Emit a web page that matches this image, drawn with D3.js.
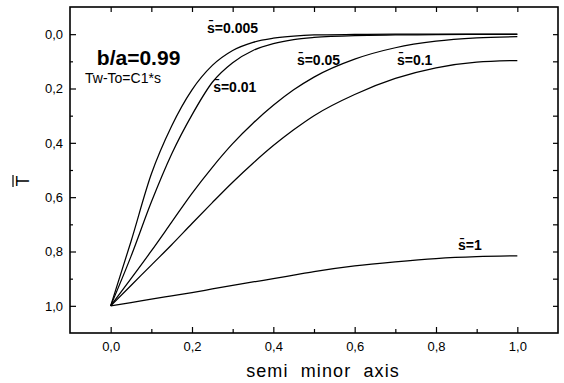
<!DOCTYPE html>
<html>
<head>
<meta charset="utf-8">
<script src="https://cdn.jsdelivr.net/npm/d3@7"></script>
<style>
  html, body { margin: 0; padding: 0; background: #fff; }
  svg { display: block; font-family: "Liberation Sans", Arial, sans-serif; }
</style>
</head>
<body>
<svg id="chart" width="564" height="383"></svg>
<script>
// Position along the semi minor axis
const xs = [0, 0.05, 0.1, 0.15, 0.2, 0.25, 0.3, 0.35, 0.4, 0.45, 0.5, 0.6, 0.7, 0.8, 0.9, 1.0];

// Dimensionless temperature for each s value
const t_s0005 = [1.0, 0.763, 0.515, 0.338, 0.205, 0.115, 0.06, 0.03, 0.015, 0.007, 0.003, 0.001, 0, 0, 0, 0];
const t_s001  = [1.0, 0.818, 0.618, 0.441, 0.297, 0.177, 0.105, 0.06, 0.035, 0.02, 0.012, 0.005, 0.003, 0.002, 0.001, 0.001];
const t_s005  = [1.0, 0.9, 0.798, 0.692, 0.586, 0.49, 0.403, 0.328, 0.262, 0.205, 0.158, 0.092, 0.05, 0.026, 0.014, 0.009];
const t_s01   = [1.0, 0.925, 0.85, 0.775, 0.697, 0.62, 0.545, 0.475, 0.41, 0.352, 0.3, 0.222, 0.163, 0.124, 0.103, 0.097];
const t_s1    = [1.0, 0.988, 0.975, 0.963, 0.951, 0.938, 0.925, 0.912, 0.9, 0.887, 0.874, 0.853, 0.838, 0.826, 0.819, 0.816];

const seriesNames = ["0.005", "0.01", "0.05", "0.1", "1"];
const seriesValues = [t_s0005, t_s001, t_s005, t_s01, t_s1];

// Curve label anchors (data coordinates)
const labelX = [0.237, 0.252, 0.458, 0.704, 0.854];
const labelY = [-0.004, 0.213, 0.113, 0.113, 0.795];

// Axis ticks
const xMajor = [0, 0.2, 0.4, 0.6, 0.8, 1.0];
const xMinor = [0.1, 0.3, 0.5, 0.7, 0.9];
const yMajor = [0, 0.2, 0.4, 0.6, 0.8, 1.0];
const yMinor = [0.1, 0.3, 0.5, 0.7, 0.9];

const svg = d3.select("#chart");
const mLeft = 70, mRight = 558, mTop = 7, mBottom = 333;

const x = d3.scaleLinear().domain([-0.1, 1.1]).range([mLeft, mRight]);
const y = d3.scaleLinear().domain([-0.1, 1.1]).range([mTop, mBottom]);

const fmt = v => d3.format(".1f")(v).replace(".", ",");

function styleAxis(g) {
  g.select(".domain").remove();
  g.selectAll(".tick line").attr("stroke", "#000").attr("stroke-width", 1.2);
  g.selectAll(".tick text").attr("fill", "#000").style("font-size", "13px")
    .style("font-family", "'Liberation Sans', Arial, sans-serif");
}

// Bottom axis: labelled majors + minors (inward)
svg.append("g").attr("transform", `translate(0,${mBottom})`)
  .call(d3.axisBottom(x).tickValues(xMajor).tickSizeInner(-6).tickSizeOuter(0).tickPadding(9).tickFormat(fmt))
  .call(styleAxis);
svg.append("g").attr("transform", `translate(0,${mBottom})`)
  .call(d3.axisBottom(x).tickValues(xMinor).tickSizeInner(-4).tickSizeOuter(0).tickFormat(""))
  .call(styleAxis);
// Top axis
svg.append("g").attr("transform", `translate(0,${mTop})`)
  .call(d3.axisTop(x).tickValues(xMajor.concat(xMinor)).tickSizeInner(-5).tickSizeOuter(0).tickFormat(""))
  .call(styleAxis);
// Left axis
svg.append("g").attr("transform", `translate(${mLeft},0)`)
  .call(d3.axisLeft(y).tickValues(yMajor).tickSizeInner(-6).tickSizeOuter(0).tickPadding(7).tickFormat(fmt))
  .call(styleAxis);
svg.append("g").attr("transform", `translate(${mLeft},0)`)
  .call(d3.axisLeft(y).tickValues(yMinor).tickSizeInner(-3).tickSizeOuter(0).tickFormat(""))
  .call(styleAxis);
// Right axis
svg.append("g").attr("transform", `translate(${mRight},0)`)
  .call(d3.axisRight(y).tickValues(yMajor.concat(yMinor)).tickSizeInner(-5).tickSizeOuter(0).tickFormat(""))
  .call(styleAxis);

// Frame
svg.append("rect")
  .attr("x", mLeft).attr("y", mTop)
  .attr("width", mRight - mLeft).attr("height", mBottom - mTop)
  .attr("fill", "none").attr("stroke", "#000").attr("stroke-width", 1.6);

// Curves
const line = d3.line()
  .x((d, i) => x(xs[i]))
  .y(d => y(d))
  .curve(d3.curveMonotoneX);

svg.append("g").selectAll("path")
  .data(seriesValues)
  .join("path")
  .attr("d", d => line(d))
  .attr("fill", "none")
  .attr("stroke", "#000")
  .attr("stroke-width", 1.25);

// Curve labels: s with overbar
svg.append("g").selectAll("text")
  .data(seriesNames)
  .join("text")
  .attr("x", (d, i) => x(labelX[i]))
  .attr("y", (d, i) => y(labelY[i]))
  .style("font-size", "14px")
  .style("font-weight", "bold")
  .attr("fill", "#000")
  .text(d => "s\u0304=" + d);

// Annotations
svg.append("text")
  .attr("x", x(-0.034)).attr("y", y(0.113))
  .style("font-size", "21px").style("font-weight", "bold")
  .text("b/a=0.99");
svg.append("text")
  .attr("x", x(-0.063)).attr("y", y(0.18))
  .style("font-size", "14px")
  .text("Tw-To=C1*s");

// Axis titles
svg.append("text")
  .attr("x", 323).attr("y", 377)
  .attr("text-anchor", "middle")
  .style("font-size", "18px")
  .style("letter-spacing", "1.1px")
  .style("white-space", "pre")
  .text("semi  minor  axis");

const yt = svg.append("g").attr("transform", "translate(29,181) rotate(-90)");
yt.append("text")
  .attr("x", 0).attr("y", 0)
  .attr("text-anchor", "middle")
  .style("font-size", "18px")
  .text("T");
yt.append("line")
  .attr("x1", -6).attr("x2", 6)
  .attr("y1", -16).attr("y2", -16)
  .attr("stroke", "#000").attr("stroke-width", 1.2);
</script>
</body>
</html>
